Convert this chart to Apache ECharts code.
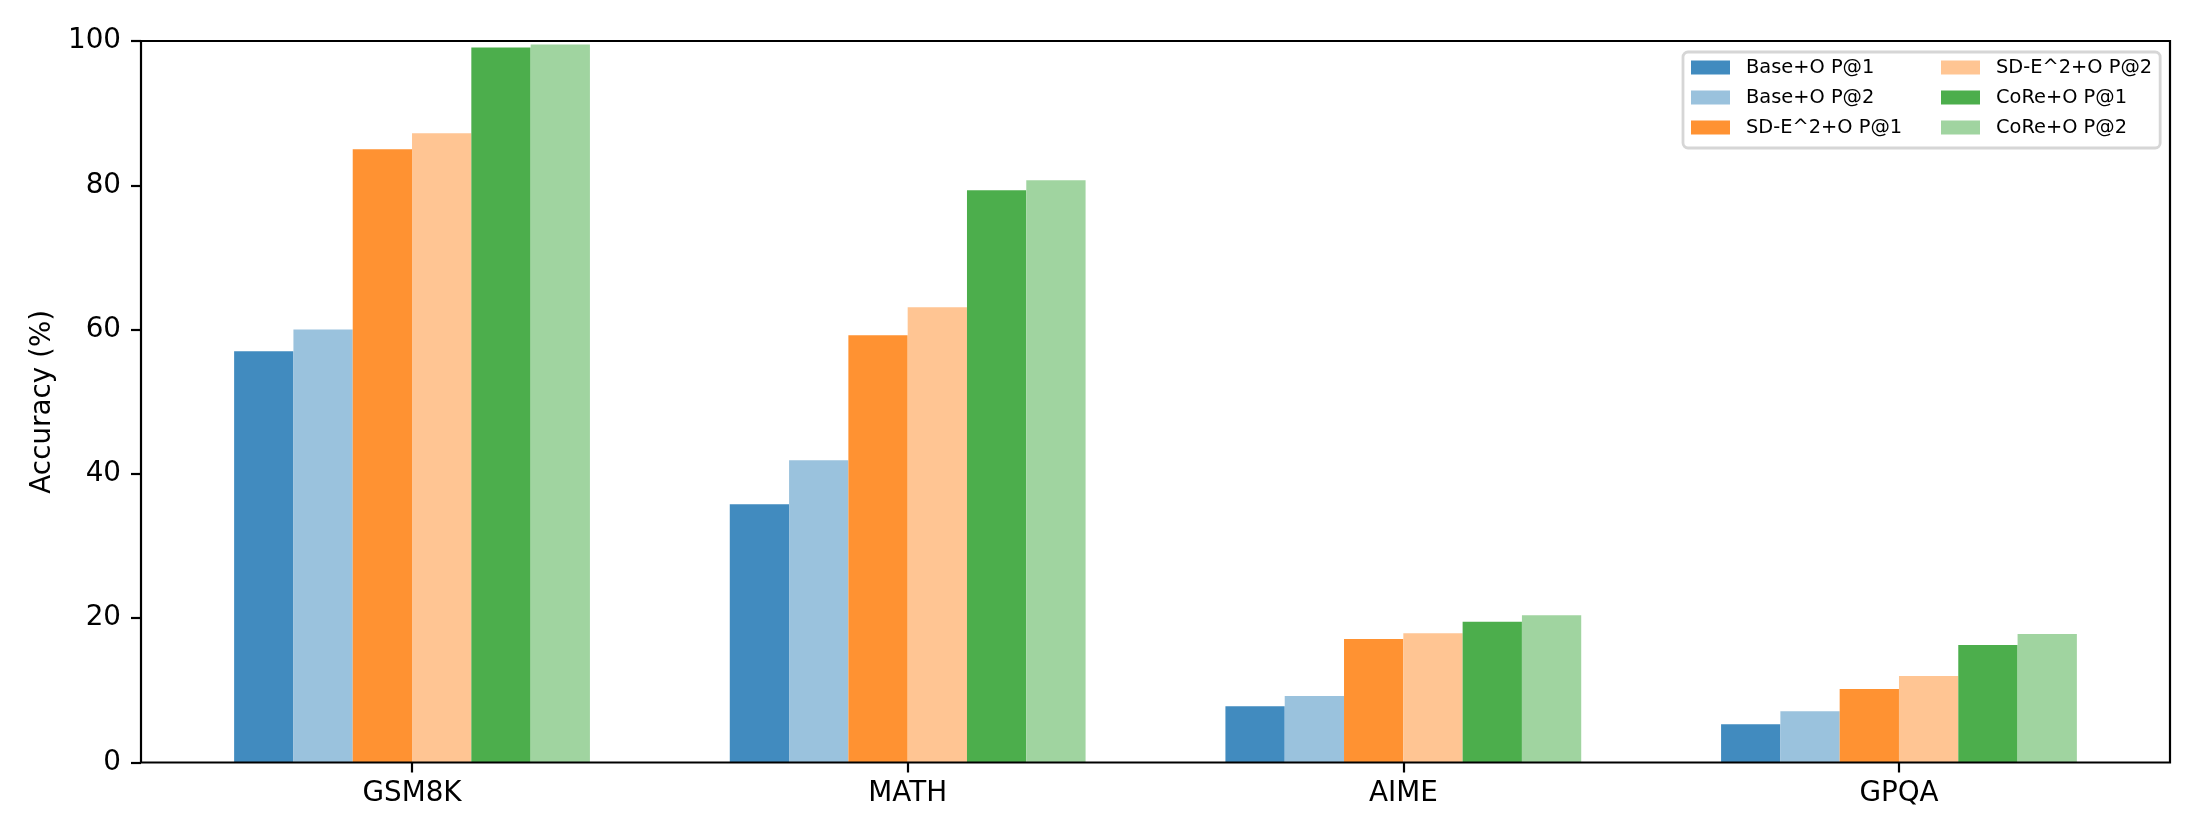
<!DOCTYPE html>
<html>
<head>
<meta charset="utf-8">
<script src="https://cdn.jsdelivr.net/npm/echarts@6/dist/echarts.min.js"></script>
<style>html,body{margin:0;padding:0;background:#fff}#c{width:2200px;height:840px}</style>
</head>
<body>
<div id="c"></div>
<script>
const categories = ['GSM8K', 'MATH', 'AIME', 'GPQA'];
const seriesNames = ['Base+O P@1', 'Base+O P@2', 'SD-E^2+O P@1', 'SD-E^2+O P@2', 'CoRe+O P@1', 'CoRe+O P@2'];
const baseP1 = [57.0, 35.8, 7.8, 5.3];
const baseP2 = [60.0, 41.9, 9.2, 7.1];
const sdP1 = [85.0, 59.2, 17.1, 10.2];
const sdP2 = [87.2, 63.1, 17.9, 12.0];
const coreP1 = [99.1, 79.3, 19.5, 16.3];
const coreP2 = [99.5, 80.7, 20.4, 17.8];
const yTicks = [0, 20, 40, 60, 80, 100];
const colors = ['#418bbf', '#9ac2dd', '#ff9232', '#ffc593', '#4cae4c', '#a0d4a0'];
const values = [baseP1, baseP2, sdP1, sdP2, coreP1, coreP2];

const FONT = 'DejaVu Sans';
const chart = echarts.init(document.getElementById('c'), null, {renderer: 'canvas'});

const legendText = {fontFamily: FONT, fontSize: 19.4, color: '#000'};
// swatch 39 wide inside a 50 wide slot (extra space = gap before text)
const legendIcon = 'path://M0,0H39V14H0Z M50,0L50,14';
const legendCommon = {
  orient: 'vertical',
  itemWidth: 50, itemHeight: 14, itemGap: 11,
  icon: legendIcon,
  textStyle: legendText,
  selectedMode: false
};

chart.setOption({
  animation: false,
  backgroundColor: '#ffffff',
  textStyle: {fontFamily: FONT},
  grid: [
    {left: 164.2, right: 53.2, top: 41, bottom: 77.5, show: false},
    {left: 141, right: 30, top: 41, bottom: 77.5, show: true, borderColor: '#000', borderWidth: 2.2, backgroundColor: 'transparent', z: 5}
  ],
  legend: [
    Object.assign({}, legendCommon, {
      left: 1683, top: 52,
      padding: [6, 258, 11, 8],
      borderColor: '#d6d6d6', borderWidth: 2.8, borderRadius: 5,
      backgroundColor: '#ffffff',
      data: seriesNames.slice(0, 3)
    }),
    Object.assign({}, legendCommon, {
      left: 1941, top: 58,
      padding: 0,
      z: 10,
      data: seriesNames.slice(3)
    })
  ],
  xAxis: [
    {
      type: 'category', gridIndex: 0, data: categories,
      axisLine: {show: false},
      axisTick: {show: true, alignWithLabel: true, length: 10, lineStyle: {color: '#000', width: 2.2}},
      axisLabel: {fontFamily: FONT, fontSize: 27.8, color: '#000', margin: 17}
    },
    {type: 'value', gridIndex: 1, show: false}
  ],
  yAxis: [
    {
      type: 'value', gridIndex: 0, min: 0, max: 100, interval: 20,
      offset: 23.2,
      name: 'Accuracy (%)', nameLocation: 'middle', nameGap: 84,
      nameTextStyle: {fontFamily: FONT, fontSize: 27.8, color: '#000'},
      axisLine: {show: false},
      axisTick: {show: true, length: 10, lineStyle: {color: '#000', width: 2.2}},
      splitLine: {show: false},
      axisLabel: {fontFamily: FONT, fontSize: 27.8, color: '#000', margin: 20,
        formatter: v => yTicks.includes(v) ? String(v) : ''}
    },
    {type: 'value', gridIndex: 1, show: false}
  ],
  series: seriesNames.map((n, i) => ({
    name: n, type: 'bar', xAxisIndex: 0, yAxisIndex: 0,
    data: values[i],
    barWidth: 59.3, barGap: '0%',
    itemStyle: {color: colors[i]},
    emphasis: {disabled: true}
  }))
});
</script>
</body>
</html>
